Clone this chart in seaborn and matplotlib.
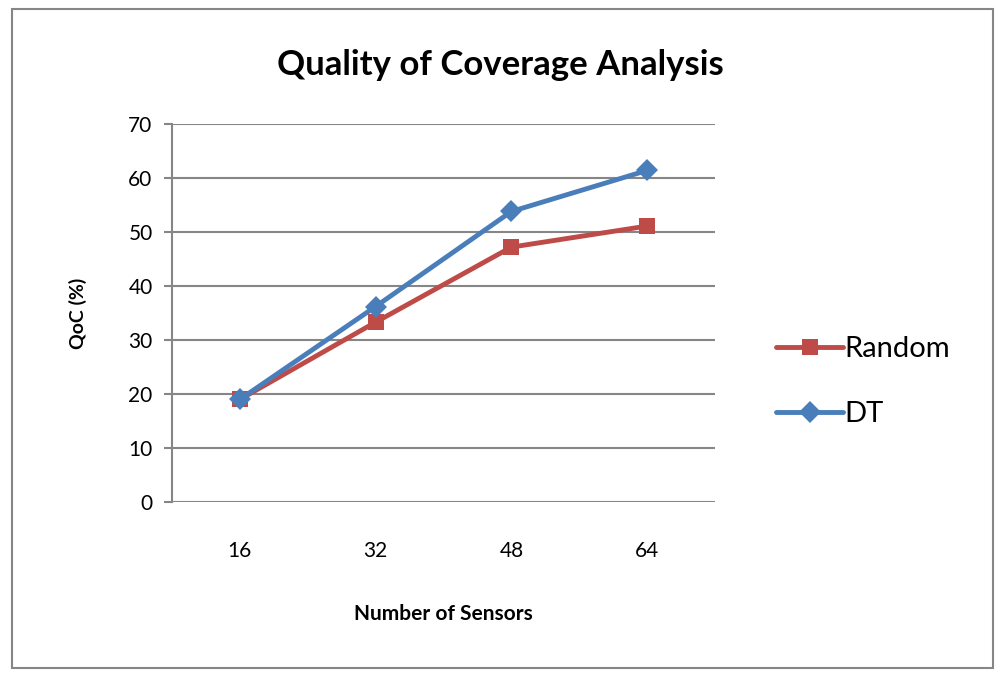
import matplotlib
matplotlib.use("Agg")
import matplotlib.pyplot as plt
import seaborn as sns
import pandas as pd
from matplotlib.patches import Rectangle

sensors = ["16", "32", "48", "64"]
random_qoc = [19.0, 33.3, 47.2, 51.1]
dt_qoc = [19.0, 36.2, 53.8, 61.4]
series_names = ["Random", "DT"]
y_ticks = [0, 10, 20, 30, 40, 50, 60, 70]

df = pd.DataFrame({
    "Sensors": sensors * 2,
    "QoC": random_qoc + dt_qoc,
    "Series": [series_names[0]] * len(sensors) + [series_names[1]] * len(sensors),
})

sns.set_theme(style="white")
plt.rcParams["font.family"] = ["Lato", "DejaVu Sans"]
plt.rcParams["text.color"] = "black"
plt.rcParams["axes.labelcolor"] = "black"
plt.rcParams["xtick.color"] = "black"
plt.rcParams["ytick.color"] = "black"

fig = plt.figure(figsize=(10, 6.8), dpi=100)
ax = fig.add_axes([0.172, 1 - 502 / 680, (715 - 172) / 1000, (502 - 124) / 680])

palette = {"Random": "#BE4B48", "DT": "#4A7EBB"}
markers = {"Random": "s", "DT": "D"}
sns.lineplot(data=df, x="Sensors", y="QoC", hue="Series", style="Series",
             palette=palette, markers=markers, dashes=False, linewidth=3.5,
             markersize=11, markeredgewidth=0, ax=ax, legend=True, sort=False)

ax.set_xlim(-0.5, 3.5)
ax.set_ylim(0, 70)
ax.set_yticks(y_ticks)
ax.yaxis.grid(True, color="#868686", linewidth=1.5)
ax.xaxis.grid(False)
for s in ["top", "right", "bottom"]:
    ax.spines[s].set_visible(False)
ax.spines["left"].set_color("#868686")
ax.spines["left"].set_linewidth(1.5)
ax.tick_params(axis="y", left=True, length=6, width=1.5, color="#868686",
               labelcolor="black", labelsize=15, pad=8)
ax.tick_params(axis="x", bottom=False, labelcolor="black", labelsize=15, pad=22)
ax.set_axisbelow(True)

ax.set_xlabel("Number of Sensors", fontsize=15, fontweight="bold", labelpad=31)
ax.set_ylabel("QoC (%)", fontsize=14, fontweight="bold", labelpad=30)

fig.text(0.5, 0.905, "Quality of Coverage Analysis", ha="center", va="center",
         fontsize=25, fontweight="bold")

handles, labels = ax.get_legend_handles_labels()
leg = ax.legend(handles, labels, loc="center left", bbox_to_anchor=(1.064, 0.318),
                frameon=False, fontsize=21, handlelength=2.3, handletextpad=0.05,
                labelspacing=1.35)

fig.patches.append(Rectangle((0.012, 0.017), 0.981, 0.97, transform=fig.transFigure,
                             fill=False, edgecolor="#868686", linewidth=1.5))

fig.savefig("out.png", dpi=100)
